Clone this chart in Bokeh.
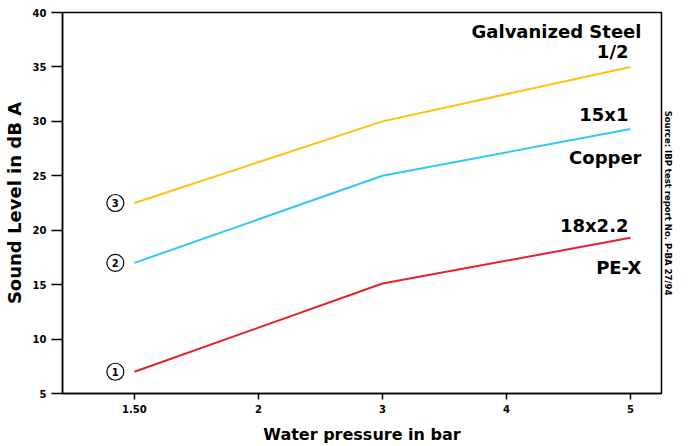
from bokeh.plotting import figure
from bokeh.models import Range1d, FixedTicker, Label, Title
from bokeh.core.properties import value
from bokeh.embed import file_html
from bokeh.resources import INLINE

# ---- data ----
x_tick_labels = ["1.50", "2", "3", "4", "5"]
pressures = ["1.50", "3", "5"]
steel = [22.5, 30.0, 35.0]
copper = [17.0, 25.0, 29.3]
pex = [7.0, 15.1, 19.3]
y_ticks = [5, 10, 15, 20, 25, 30, 35, 40]
series_numbers = ["3", "2", "1"]
series_names = [("Galvanized Steel", "1/2"), ("15x1", "Copper"), ("18x2.2", "PE-X")]
colors = ["#FFC20E", "#33C8F5", "#E8202A"]
source_note = "Source: IBP test report No. P-BA 27/94"

FONT = "DejaVu Sans"
xs = [x_tick_labels.index(v) for v in pressures]
marker_shift = 19 / 123.5  # circle sits just left of the line start

x_lo, x_hi = -0.58, 4.25
y_lo, y_hi = y_ticks[0], y_ticks[-1]

p = figure(width=680, height=446, output_backend="svg", toolbar_location=None,
           x_range=Range1d(x_lo, x_hi), y_range=Range1d(y_lo, y_hi),
           min_border_left=56, min_border_top=12, min_border_right=19, min_border_bottom=51)
p.background_fill_color = "white"
p.border_fill_color = "white"
p.outline_line_color = "black"
p.outline_line_width = 1.5
p.grid.visible = False

p.xaxis.ticker = FixedTicker(ticks=list(range(len(x_tick_labels))))
p.xaxis.major_label_overrides = {i: t for i, t in enumerate(x_tick_labels)}
p.yaxis.ticker = FixedTicker(ticks=y_ticks)
for ax in (p.xaxis, p.yaxis):
    ax.axis_line_width = 1.5
    ax.major_tick_line_width = 1.5
    ax.minor_tick_line_color = None
    ax.major_tick_in = 0
    ax.major_label_text_font = FONT
    ax.major_label_text_font_style = "bold"
    ax.major_label_text_font_size = "10px"
    ax.major_label_text_color = "black"
    ax.axis_label_text_font = FONT
    ax.axis_label_text_font_style = "bold"
    ax.axis_label_text_color = "black"
p.yaxis.major_tick_out = 11
p.xaxis.major_tick_out = 6
p.xaxis.axis_label = "Water pressure in bar"
p.yaxis.axis_label = "Sound Level in dB A"
p.xaxis.axis_label_text_font_size = "16px"
p.yaxis.axis_label_text_font_size = "18px"
p.xaxis.axis_label_standoff = 9
p.yaxis.axis_label_standoff = 5

all_series = [steel, copper, pex]
for ys, col, num in zip(all_series, colors, series_numbers):
    p.line(xs, ys, line_color=col, line_width=2)
    mx = xs[0] - marker_shift
    p.scatter([mx], [ys[0]], marker="circle", size=17, fill_color="white",
              line_color="black", line_width=1.2)
    p.text([mx], [ys[0]], text=[num], text_align="center",
           text_baseline="middle", text_font=value(FONT), text_font_style="bold",
           text_font_size="10px", text_color="black")

# labels at the right end
top_off = [(-35, -15), (-14, 29), (-12, 30)]
right_shift = [(11, -2), (-2, 11), (-2, 11)]
for ys, names, offs, sh in zip(all_series, series_names, top_off, right_shift):
    for name, oy, ox in zip(names, offs, sh):
        p.add_layout(Label(x=xs[-1], y=ys[-1], text=name, x_offset=ox, y_offset=-oy,
                           text_align="right", text_baseline="middle",
                           text_font=FONT, text_font_style="bold",
                           text_font_size="18px", text_color="black"))

# vertical source note in the right margin
p.add_layout(Title(text=source_note, align="center", text_font=FONT,
                   text_font_style="bold", text_font_size="8.5px",
                   text_color="black", standoff=2), "right")

open("out.html", "w").write(file_html(p, INLINE))
